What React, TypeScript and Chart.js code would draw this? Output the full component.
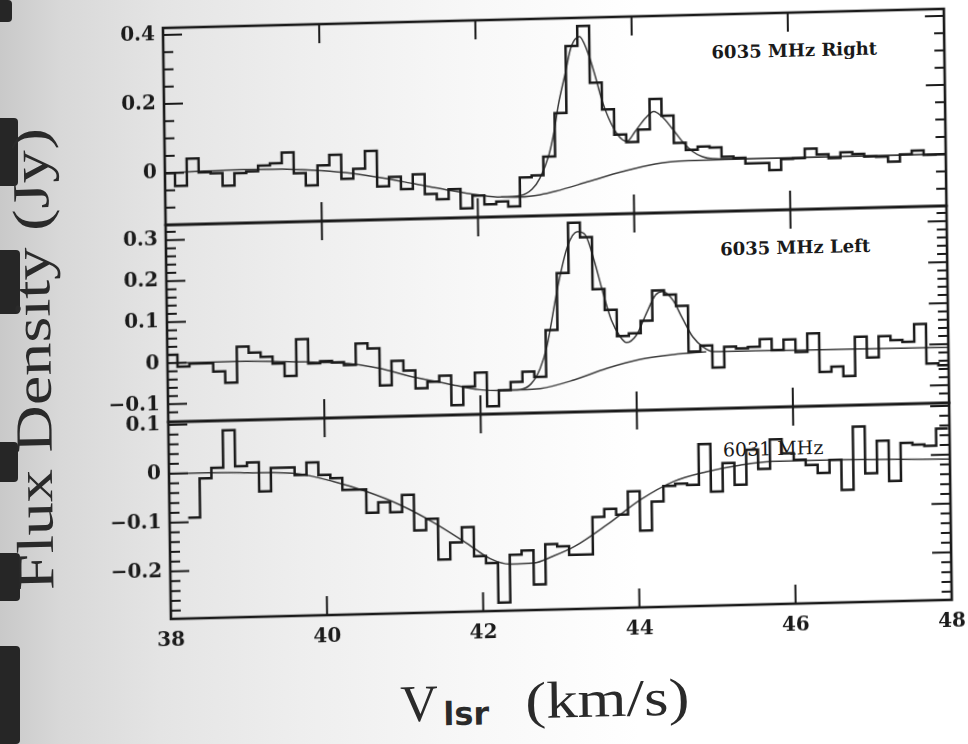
import React, { useEffect, useRef } from "react";
import { Chart, registerables } from "chart.js";

Chart.register(...registerables);

// ---------- axis / channel grid ----------
const X_MIN = 38;
const X_MAX = 48;
const X_STEP = 2;
const CHANNEL_WIDTH = 0.1522; // km/s
const EDGE_6035 = 37.976; // left edge of first 6035 MHz channel
const EDGE_6031 = 38.239; // left edge of first 6031 MHz channel

// ---------- spectra (Jy per channel) ----------
const FLUX_6035_RIGHT = [
  0.0, -0.038, 0.04, 0.0, -0.004, -0.041, -0.005, -0.001, 0.015, 0.021,
  0.051, -0.01, -0.046, 0.011, 0.041, -0.029, -0.001, 0.05, -0.054, -0.027,
  -0.063, -0.021, -0.079, -0.095, -0.067, -0.123, -0.087, -0.113, -0.106, -0.121,
  -0.038, -0.033, 0.021, 0.146, 0.339, 0.396, 0.231, 0.153, 0.079, 0.057,
  0.092, 0.18, 0.131, 0.051, 0.03, 0.039, 0.035, 0.008, 0.003, -0.013,
  -0.013, -0.034, -0.003, -0.002, 0.025, 0.008, -0.004, 0.012, 0.006, -0.002,
  -0.003, -0.018, 0.002, 0.012, -0.001, 0.0,
];
const FLUX_6035_LEFT = [
  0.02, -0.009, -0.002, -0.002, -0.023, -0.051, 0.036, 0.021, 0.01, -0.007,
  -0.038, 0.051, -0.009, -0.004, -0.008, -0.015, 0.037, 0.024, -0.067, -0.008,
  -0.032, -0.076, -0.061, -0.047, -0.119, -0.075, -0.041, -0.124, -0.086, -0.066,
  -0.042, -0.055, 0.058, 0.196, 0.318, 0.282, 0.155, 0.104, 0.039, 0.045,
  0.075, 0.148, 0.137, 0.109, -0.003, 0.011, -0.043, 0.007, 0.002, 0.005,
  0.023, -0.004, 0.021, -0.01, 0.034, -0.06, -0.048, -0.072, 0.023, -0.028,
  0.023, 0.013, 0.008, 0.051, -0.046, -0.051,
];
const FLUX_6031 = [
  -0.091, -0.011, 0.01, 0.086, 0.012, 0.019, -0.041, 0.007, 0.007, -0.009,
  0.016, -0.01, -0.017, -0.042, -0.042, -0.09, -0.069, -0.09, -0.055, -0.128,
  -0.105, -0.189, -0.155, -0.124, -0.184, -0.199, -0.28, -0.183, -0.175, -0.245,
  -0.163, -0.168, -0.186, -0.186, -0.11, -0.094, -0.106, -0.059, -0.14, -0.081,
  -0.05, -0.046, -0.049, 0.034, -0.064, -0.006, -0.051, 0.02, -0.02, 0.04,
  0.011, -0.003, -0.014, -0.031, -0.005, -0.067, 0.062, -0.034, 0.032, -0.051,
  0.026, 0.022, 0.019, 0.054,
];

// ---------- fitted profiles ----------
const FIT_RIGHT_V = [
  38.0, 38.5, 39.0, 39.5, 40.0, 40.4, 40.8, 41.2, 41.6, 42.0,
  42.3, 42.55, 42.7, 42.8, 42.92, 42.99, 43.05, 43.14, 43.22, 43.33,
  43.43, 43.52, 43.6, 43.69, 43.82, 43.92, 44.03, 44.16, 44.27, 44.37,
  44.5, 44.63, 44.76, 44.88, 45.01, 45.5, 46.5, 48.0,
];
const FIT_RIGHT_Y = [
  0.0, 0.003, 0.005, 0.003, -0.004, -0.014, -0.03, -0.049, -0.068, -0.085,
  -0.093, -0.09, -0.072, -0.041, 0.026, 0.093, 0.171, 0.258, 0.335, 0.366,
  0.322, 0.255, 0.186, 0.128, 0.074, 0.059, 0.088, 0.125, 0.144, 0.129,
  0.094, 0.055, 0.025, 0.01, 0.003, 0.0, 0.0, 0.0,
];
const BASE_RIGHT_V = [42.3, 42.55, 42.8, 43.0, 43.43, 43.86, 44.28, 44.7, 45.2, 48.0];
const BASE_RIGHT_Y = [-0.093, -0.094, -0.089, -0.08, -0.054, -0.028, -0.008, -0.001, 0.0, 0.0];

const FIT_LEFT_V = [
  38.0, 38.5, 39.0, 39.5, 39.95, 40.38, 40.71, 41.14, 41.57, 41.99,
  42.29, 42.51, 42.65, 42.77, 42.86, 43.01, 43.14, 43.27, 43.37, 43.48,
  43.59, 43.69, 43.8, 43.88, 44.01, 44.14, 44.26, 44.35, 44.48, 44.6,
  44.73, 44.86, 44.99, 45.5, 46.5, 48.0,
];
const FIT_LEFT_Y = [
  0.0, 0.0, 0.0, -0.003, -0.007, -0.013, -0.025, -0.048, -0.066, -0.083,
  -0.086, -0.085, -0.072, -0.035, 0.018, 0.163, 0.26, 0.296, 0.288, 0.225,
  0.144, 0.079, 0.038, 0.023, 0.041, 0.093, 0.137, 0.145, 0.124, 0.079,
  0.033, 0.008, -0.004, -0.005, -0.006, -0.008,
];
const BASE_LEFT_V = [42.29, 42.51, 42.77, 43.2, 43.62, 44.05, 44.48, 44.9];
const BASE_LEFT_Y = [-0.086, -0.086, -0.084, -0.065, -0.039, -0.019, -0.009, -0.004];

const FIT_6031_V = [
  38.0, 38.5, 39.0, 39.67, 40.1, 40.52, 40.95, 41.37, 41.8, 42.1,
  42.35, 42.65, 42.9, 43.18, 43.6, 44.03, 44.46, 44.88, 45.31, 45.73,
  46.16, 46.59, 47.01, 48.0,
];
const FIT_6031_Y = [
  0.0, 0.0, -0.002, -0.007, -0.024, -0.046, -0.075, -0.112, -0.157, -0.19,
  -0.202, -0.201, -0.188, -0.169, -0.126, -0.077, -0.041, -0.023, -0.011, -0.005,
  -0.005, -0.005, -0.006, -0.009,
];

// ---------- panels ----------
const PANELS = [
  { id: "y1", min: -0.15, max: 0.42, major: 0.2, minor: 0.05, weight: 3 },
  { id: "y2", min: -0.143, max: 0.337, major: 0.1, minor: 0.02, weight: 2 },
  { id: "y3", min: -0.297, max: 0.106, major: 0.1, minor: 0.02, weight: 1 },
];

const INK = "#1a1a1a";
const FIT_INK = "#3c3c3c";
const TICK_FONT = { family: "'DejaVu Serif', serif", size: 20, weight: "bold" as const };
const MAJOR_LEN = 19;
const MINOR_LEN = 10;

function histogram(firstEdge: number, values: number[]) {
  const pts = [{ x: Math.max(firstEdge, X_MIN), y: values[0] }];
  values.forEach((y, i) => pts.push({ x: firstEdge + CHANNEL_WIDTH * (i + 0.5), y }));
  pts.push({
    x: Math.min(firstEdge + CHANNEL_WIDTH * values.length, X_MAX),
    y: values[values.length - 1],
  });
  return pts;
}
function curve(v: number[], y: number[]) {
  return v.map((x, i) => ({ x, y: y[i] }));
}
function fmt(v: number) {
  if (Math.abs(v) < 1e-9) return "0";
  return (v < 0 ? "\u2212" : "") + Math.abs(v).toFixed(1);
}

function panelScale(p: any) {
  return {
    type: "linear",
    position: "left",
    stack: "panels",
    stackWeight: 1,
    weight: p.weight,
    min: p.min,
    max: p.max,
    grid: { display: false, drawTicks: false },
    border: { display: false },
    ticks: {
      stepSize: p.major,
      includeBounds: false,
      autoSkip: false,
      padding: 8,
      color: INK,
      font: TICK_FONT,
      callback: (v: any) => fmt(Number(v)),
    },
    afterFit: (s: any) => {
      s.width = 163;
    },
  };
}

const framesPlugin = {
  id: "panelFrames",
  afterDraw(chart: any) {
    const { ctx, chartArea } = chart;
    const L = chartArea.left;
    const R = chartArea.right;
    const xs = chart.scales.x;
    ctx.save();
    ctx.strokeStyle = INK;
    ctx.lineCap = "butt";
    for (const p of PANELS) {
      const ys = chart.scales[p.id];
      const T = ys.top;
      const B = ys.bottom;
      const majors = ys.ticks.map((t: any) => t.value);
      ctx.lineWidth = 2;
      ctx.beginPath();
      const i0 = Math.ceil(p.min / p.minor - 1e-6);
      const i1 = Math.floor(p.max / p.minor + 1e-6);
      for (let i = i0; i <= i1; i++) {
        const v = i * p.minor;
        const isMajor = majors.some((m: number) => Math.abs(m - v) < 1e-6);
        const len = isMajor ? MAJOR_LEN : MINOR_LEN;
        const y = ys.getPixelForValue(v);
        if (y < T + 1.5 || y > B - 1.5) continue;
        ctx.moveTo(L, y);
        ctx.lineTo(L + len, y);
        ctx.moveTo(R, y);
        ctx.lineTo(R - len, y);
      }
      xs.ticks.forEach((t: any) => {
        if (t.value <= X_MIN || t.value >= X_MAX) return;
        const x = xs.getPixelForValue(t.value);
        ctx.moveTo(x, T);
        ctx.lineTo(x, T + MAJOR_LEN);
        ctx.moveTo(x, B);
        ctx.lineTo(x, B - MAJOR_LEN);
      });
      ctx.stroke();
      ctx.lineWidth = 2.6;
      ctx.strokeRect(L, T, R - L, B - T);
    }
    ctx.restore();
  },
};

function histDataset(data: any[], yAxisID: string) {
  return {
    data,
    yAxisID,
    xAxisID: "x",
    stepped: "middle",
    borderColor: INK,
    borderWidth: 2.5,
    borderJoinStyle: "miter",
    pointRadius: 0,
    fill: false,
  };
}
function fitDataset(data: any[], yAxisID: string) {
  return {
    data,
    yAxisID,
    xAxisID: "x",
    cubicInterpolationMode: "monotone",
    borderColor: FIT_INK,
    borderWidth: 1.5,
    pointRadius: 0,
    fill: false,
  };
}

const BG =
  "linear-gradient(90deg, #c9c9c9 0px, #d8d8d8 60px, #e4e4e4 160px, #eeeeee 300px, #f8f8f8 480px, #ffffff 640px)";
const BLOBS = [
  { x: 0, y: 0, w: 12, h: 22 },
  { x: 0, y: 118, w: 18, h: 68 },
  { x: 0, y: 250, w: 20, h: 64 },
  { x: 0, y: 442, w: 18, h: 40 },
  { x: 0, y: 553, w: 20, h: 48 },
  { x: 0, y: 646, w: 20, h: 98 },
];

export default function App() {
  const ref = useRef<HTMLCanvasElement>(null);

  useEffect(() => {
    if (!ref.current) return;
    const chart = new Chart(ref.current, {
      type: "line",
      data: {
        datasets: [
          histDataset(histogram(EDGE_6035, FLUX_6035_RIGHT), "y1"),
          fitDataset(curve(FIT_RIGHT_V, FIT_RIGHT_Y), "y1"),
          fitDataset(curve(BASE_RIGHT_V, BASE_RIGHT_Y), "y1"),
          histDataset(histogram(EDGE_6035, FLUX_6035_LEFT), "y2"),
          fitDataset(curve(FIT_LEFT_V, FIT_LEFT_Y), "y2"),
          fitDataset(curve(BASE_LEFT_V, BASE_LEFT_Y), "y2"),
          histDataset(histogram(EDGE_6031, FLUX_6031), "y3"),
          fitDataset(curve(FIT_6031_V, FIT_6031_Y), "y3"),
        ] as any,
      },
      options: {
        animation: false,
        responsive: false,
        devicePixelRatio: 1,
        events: [],
        layout: { padding: { left: 0, top: 28, right: 23, bottom: 0 } },
        plugins: {
          legend: { display: false },
          tooltip: { enabled: false },
          title: { display: false },
        },
        scales: {
          x: {
            type: "linear",
            position: "bottom",
            min: X_MIN,
            max: X_MAX,
            grid: { display: false, drawTicks: false },
            border: { display: false },
            ticks: {
              stepSize: X_STEP,
              autoSkip: false,
              maxRotation: 0,
              padding: 10,
              color: INK,
              font: TICK_FONT,
              callback: (v: any) => String(v),
            },
            afterFit: (s: any) => {
              s.height = 125;
            },
          },
          y1: panelScale(PANELS[0]),
          y2: panelScale(PANELS[1]),
          y3: panelScale(PANELS[2]),
        } as any,
      },
      plugins: [framesPlugin],
    } as any);
    return () => chart.destroy();
  }, []);

  const panelLabel = (left: number, cy: number, bold: boolean, size: number): React.CSSProperties => ({
    position: "absolute",
    left,
    top: cy - size / 2,
    font: `${bold ? "bold " : ""}${size}px 'DejaVu Serif', serif`,
    lineHeight: `${size}px`,
    whiteSpace: "nowrap",
    color: INK,
  });

  return (
    <div
      style={{
        position: "fixed",
        left: 0,
        top: 0,
        width: 968,
        height: 744,
        overflow: "hidden",
        background: BG,
      }}
    >
      {BLOBS.map((b, i) => (
        <div
          key={i}
          style={{
            position: "absolute",
            left: b.x,
            top: b.y,
            width: b.w,
            height: b.h,
            background: "#262626",
            borderRadius: "0 4px 4px 0",
          }}
        />
      ))}
      <div
        style={{
          position: "absolute",
          left: 0,
          top: 0,
          width: 968,
          height: 744,
          transformOrigin: "163px 28px",
          transform: "matrix(1, -0.0245, 0.0135, 1, 0, 0)",
        }}
      >
        <div style={panelLabel(711, 66, true, 18)}>6035 MHz Right</div>
        <div style={panelLabel(717, 262.6, true, 18)}>6035 MHz Left</div>
        <div style={panelLabel(717, 463.7, false, 19)}>6031 MHz</div>
        <div
          style={{
            position: "absolute",
            left: 29,
            top: 355.7,
            transform: "translate(-50%, -50%) rotate(-90deg) scaleX(1.27)",
            font: "52px 'Liberation Serif', serif",
            lineHeight: "52px",
            whiteSpace: "nowrap",
            color: "#2a2a2a",
          }}
        >
          Flux Density (Jy)
        </div>
        <div
          style={{
            position: "absolute",
            left: 391,
            top: 683.5,
            font: "52px 'Liberation Serif', serif",
            lineHeight: "52px",
            whiteSpace: "nowrap",
            color: "#2a2a2a",
          }}
        >
          V
        </div>
        <div
          style={{
            position: "absolute",
            left: 434,
            top: 705,
            font: "bold 32px 'DejaVu Sans', sans-serif",
            lineHeight: "32px",
            whiteSpace: "nowrap",
            color: "#2a2a2a",
          }}
        >
          lsr
        </div>
        <div
          style={{
            position: "absolute",
            left: 516,
            top: 683.5,
            font: "52px 'Liberation Serif', serif",
            lineHeight: "52px",
            whiteSpace: "nowrap",
            color: "#2a2a2a",
            transform: "scaleX(1.21)",
            transformOrigin: "left center",
          }}
        >
          (km/s)
        </div>
        <canvas
          ref={ref}
          width={968}
          height={744}
          style={{ position: "absolute", left: 0, top: 0, width: 968, height: 744 }}
        />
      </div>
    </div>
  );
}
